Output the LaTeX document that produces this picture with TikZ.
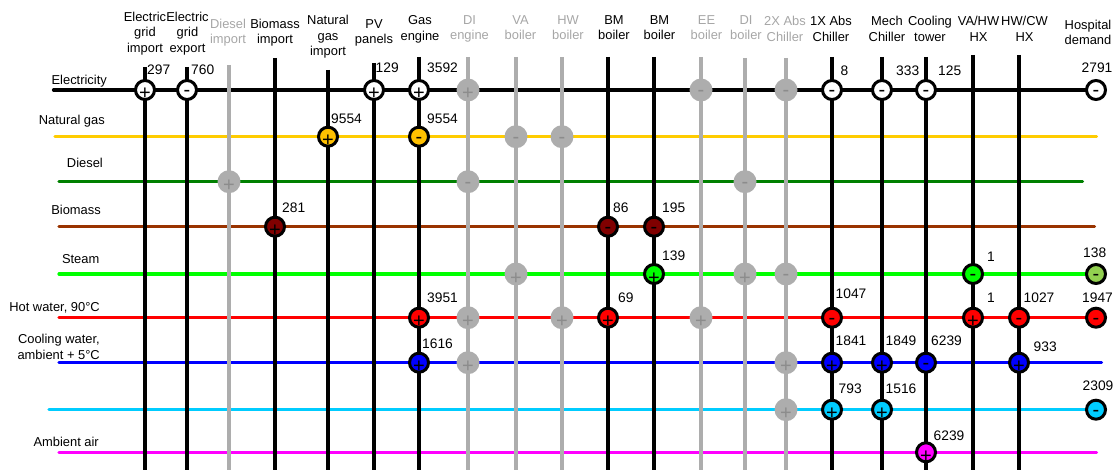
\documentclass[tikz,border=0pt]{standalone}
\usepackage{fontspec}
\setmainfont{Liberation Sans}
\newcommand{\signfont}{\fontsize{20}{20}\selectfont}
\newcommand{\valfont}{\fontsize{13.8}{16}\selectfont}
\newcommand{\hdrfont}{\fontsize{12.9}{15.5}\selectfont}
\newcommand{\sgnp}{\raisebox{-10pt}[0pt][0pt]{+}}
\newcommand{\sgnm}{\raisebox{-6.5pt}[0pt][0pt]{-}}
\definecolor{ngline}{HTML}{FFCC00}
\definecolor{ngfill}{HTML}{FFC000}
\definecolor{dsline}{HTML}{008000}
\definecolor{bmline}{HTML}{993300}
\definecolor{bmfill}{HTML}{800000}
\definecolor{stline}{HTML}{00FF00}
\definecolor{stdemand}{HTML}{92D050}
\definecolor{hwline}{HTML}{FF0000}
\definecolor{cwline}{HTML}{0000FF}
\definecolor{cyline}{HTML}{00CCFF}
\definecolor{amline}{HTML}{FF00FF}
\definecolor{offline}{HTML}{ADADAD}
\definecolor{offsign}{HTML}{8C8C8C}
\definecolor{offtext}{HTML}{A6A6A6}
\begin{document}
\begin{tikzpicture}[x=1pt,y=-1pt,
  bus/.style={line width=3.2pt, line cap=round},
  riser/.style={line width=3.5pt, black},
  riseroff/.style={line width=3.5pt, offline},
  port/.style={circle, draw=black, line width=3pt, minimum size=19pt, inner sep=0pt, font=\signfont},
  portoff/.style={circle, fill=offline, minimum size=23pt, inner sep=0pt, text=offsign, font=\signfont},
  val/.style={anchor=west, inner sep=0pt, font=\valfont},
  hdr/.style={anchor=north, align=center, inner sep=0pt, font=\hdrfont},
  hdroff/.style={hdr, text=offtext},
  rowlbl/.style={anchor=base east, inner sep=0pt, font=\hdrfont}]
\useasboundingbox (0,0) rectangle (1118,470);

% ---------- energy carriers (horizontal buses) ----------
\coordinate (el-w) at (53.5,90);   \coordinate (el-e) at (1096,90);
\coordinate (ng-w) at (55,136.7);  \coordinate (ng-e) at (1096.5,136.7);
\coordinate (ds-w) at (59,181.7);  \coordinate (ds-e) at (1082.5,181.7);
\coordinate (bm-w) at (59,226.7);  \coordinate (bm-e) at (1094.5,226.7);
\coordinate (st-w) at (59,274);    \coordinate (st-e) at (1096,274);
\coordinate (hw-w) at (59,317.7);  \coordinate (hw-e) at (1096,317.7);
\coordinate (cw-w) at (59,362.7);  \coordinate (cw-e) at (1101.5,362.7);
\coordinate (cy-w) at (49,409.7);  \coordinate (cy-e) at (1096,409.7);
\coordinate (am-w) at (59,452.3);  \coordinate (am-e) at (1096.5,452.3);

\draw[bus, black]   (el-w) -- (el-e);
\draw[bus, ngline]  (ng-w) -- (ng-e);
\draw[bus, dsline]  (ds-w) -- (ds-e);
\draw[bus, bmline]  (bm-w) -- (bm-e);
\draw[bus, stline]  (st-w) -- (st-e);
\draw[bus, hwline]  (hw-w) -- (hw-e);
\draw[bus, cwline]  (cw-w) -- (cw-e);
\draw[bus, cyline]  (cy-w) -- (cy-e);
\draw[bus, amline]  (am-w) -- (am-e);

% ---------- technologies (vertical risers) ----------
\coordinate (gimp-t) at (145,67);  \coordinate (gimp-b) at (145,470);
\coordinate (gexp-t) at (187,67);  \coordinate (gexp-b) at (187,470);
\coordinate (dimp-t) at (229,65);  \coordinate (dimp-b) at (229,470);
\coordinate (bimp-t) at (275,58);  \coordinate (bimp-b) at (275,470);
\coordinate (ngim-t) at (328,70);  \coordinate (ngim-b) at (328,470);
\coordinate (pv-t)   at (374,63);  \coordinate (pv-b)   at (374,470);
\coordinate (geng-t) at (419,57);  \coordinate (geng-b) at (419,470);
\coordinate (deng-t) at (468,57);  \coordinate (deng-b) at (468,470);
\coordinate (vab-t)  at (516,57);  \coordinate (vab-b)  at (516,470);
\coordinate (hwb-t)  at (562,57);  \coordinate (hwb-b)  at (562,470);
\coordinate (bmba-t) at (608,57);  \coordinate (bmba-b) at (608,470);
\coordinate (bmbb-t) at (654,57);  \coordinate (bmbb-b) at (654,470);
\coordinate (eeb-t)  at (701,57);  \coordinate (eeb-b)  at (701,470);
\coordinate (dib-t)  at (745,58);  \coordinate (dib-b)  at (745,470);
\coordinate (absb-t) at (786,58);  \coordinate (absb-b) at (786,470);
\coordinate (absa-t) at (832,57);  \coordinate (absa-b) at (832,470);
\coordinate (mech-t) at (882,57);  \coordinate (mech-b) at (882,470);
\coordinate (ctw-t)  at (926,57);  \coordinate (ctw-b)  at (926,470);
\coordinate (vahx-t) at (973,55);  \coordinate (vahx-b) at (973,470);
\coordinate (hwcx-t) at (1019,55); \coordinate (hwcx-b) at (1019,470);

\draw[riser]    (gimp-t) -- (gimp-b);
\draw[riser]    (gexp-t) -- (gexp-b);
\draw[riseroff] (dimp-t) -- (dimp-b);
\draw[riser]    (bimp-t) -- (bimp-b);
\draw[riser]    (ngim-t) -- (ngim-b);
\draw[riser]    (pv-t)   -- (pv-b);
\draw[riser]    (geng-t) -- (geng-b);
\draw[riseroff] (deng-t) -- (deng-b);
\draw[riseroff] (vab-t)  -- (vab-b);
\draw[riseroff] (hwb-t)  -- (hwb-b);
\draw[riser]    (bmba-t) -- (bmba-b);
\draw[riser]    (bmbb-t) -- (bmbb-b);
\draw[riseroff] (eeb-t)  -- (eeb-b);
\draw[riseroff] (dib-t)  -- (dib-b);
\draw[riseroff] (absb-t) -- (absb-b);
\draw[riser]    (absa-t) -- (absa-b);
\draw[riser]    (mech-t) -- (mech-b);
\draw[riser]    (ctw-t)  -- (ctw-b);
\draw[riser]    (vahx-t) -- (vahx-b);
\draw[riser]    (hwcx-t) -- (hwcx-b);

% ---------- column headings ----------
\node[hdr]    (h-gimp) at (145,11.5)  {Electric\\grid\\import};
\node[hdr]    (h-gexp) at (187.5,11.5){Electric\\grid\\export};
\node[hdroff] (h-dimp) at (228,18.5)  {Diesel\\import};
\node[hdr]    (h-bimp) at (275,18.5)  {Biomass\\import};
\node[hdr]    (h-ngim) at (328,15.3)  {Natural\\gas\\import};
\node[hdr]    (h-pv)   at (374,19)    {PV\\panels};
\node[hdr]    (h-geng) at (420,15.3)  {Gas\\engine};
\node[hdroff] (h-deng) at (469.5,15.3){DI\\engine};
\node[hdroff] (h-vab)  at (520.5,15.3){VA\\boiler};
\node[hdroff] (h-hwb)  at (568,15.3)  {HW\\boiler};
\node[hdr]    (h-bmba) at (614,15.3)  {BM\\boiler};
\node[hdr]    (h-bmbb) at (659.5,15.3){BM\\boiler};
\node[hdroff] (h-eeb)  at (706.5,15.3){EE\\boiler};
\node[hdroff] (h-dib)  at (746,15.3)  {DI\\boiler};
\node[hdroff] (h-absb) at (785,16)    {2X Abs\\Chiller};
\node[hdr]    (h-absa) at (831,16)    {1X Abs\\Chiller};
\node[hdr]    (h-mech) at (887,16)    {Mech\\Chiller};
\node[hdr]    (h-ctw)  at (930,16)    {Cooling\\tower};
\node[hdr]    (h-vahx) at (978.5,16)  {VA/HW\\HX};
\node[hdr]    (h-hwcx) at (1024.5,16) {HW/CW\\HX};
\node[hdr]    (h-hosp) at (1088,19.5) {Hospital\\demand};

% ---------- carrier names ----------
\node[rowlbl] (l-el) at (107,84.5)  {Electricity};
\node[rowlbl] (l-ng) at (105,124.3) {Natural gas};
\node[rowlbl] (l-ds) at (103,168)   {Diesel};
\node[rowlbl] (l-bm) at (101,215)   {Biomass};
\node[rowlbl] (l-st) at (99.5,263)  {Steam};
\node[rowlbl] (l-hw) at (100,311)   {Hot water, 90°C};
\node[rowlbl, anchor=north east, align=right] (l-cw) at (100,334.3) {Cooling water,\\ambient + 5°C};
\node[rowlbl] (l-am) at (99,446)    {Ambient air};

% ---------- electricity ----------
\node[port, fill=white] (p-el-gimp) at (145,90)  {\sgnp};
\node[port, fill=white] (p-el-gexp) at (187,90)  {\sgnm};
\node[port, fill=white] (p-el-pv)   at (374,90)  {\sgnp};
\node[port, fill=white] (p-el-geng) at (419,90)  {\sgnp};
\node[portoff]          (p-el-deng) at (468,90)  {\sgnp};
\node[portoff]          (p-el-eeb)  at (701,90)  {\sgnm};
\node[portoff]          (p-el-absb) at (786,90)  {\sgnm};
\node[port, fill=white] (p-el-absa) at (832,90)  {\sgnm};
\node[port, fill=white] (p-el-mech) at (882,90)  {\sgnm};
\node[port, fill=white] (p-el-ctw)  at (926,90)  {\sgnm};
\node[port, fill=white] (p-el-hosp) at (1096,90) {\sgnm};
\node[val] (v-el-gimp) at (147,70)  {297};
\node[val] (v-el-gexp) at (191,70)  {760};
\node[val] (v-el-pv)   at (375.5,68){129};
\node[val] (v-el-geng) at (427,68)  {3592};
\node[val] (v-el-absa) at (840.5,71){8};
\node[val] (v-el-mech) at (896,71)  {333};
\node[val] (v-el-ctw)  at (938,71)  {125};
\node[val] (v-el-hosp) at (1081.5,68){2791};

% ---------- natural gas ----------
\node[port, fill=ngfill] (p-ng-ngim) at (328,136.7) {\sgnp};
\node[port, fill=ngfill] (p-ng-geng) at (419,136.7) {\sgnm};
\node[portoff]           (p-ng-vab)  at (516,136.7) {\sgnm};
\node[portoff]           (p-ng-hwb)  at (562,136.7) {\sgnm};
\node[val] (v-ng-ngim) at (331,119) {9554};
\node[val] (v-ng-geng) at (427,119) {9554};

% ---------- diesel ----------
\node[portoff] (p-ds-dimp) at (229,181.7) {\sgnp};
\node[portoff] (p-ds-deng) at (468,181.7) {\sgnm};
\node[portoff] (p-ds-dib)  at (745,181.7) {\sgnm};

% ---------- biomass ----------
\node[port, fill=bmfill] (p-bm-bimp) at (275,226.7) {\sgnp};
\node[port, fill=bmfill] (p-bm-bmba) at (608,226.7) {\sgnm};
\node[port, fill=bmfill] (p-bm-bmbb) at (654,226.7) {\sgnm};
\node[val] (v-bm-bimp) at (282,208) {281};
\node[val] (v-bm-bmba) at (613,208) {86};
\node[val] (v-bm-bmbb) at (662,208) {195};

% ---------- steam ----------
\node[portoff]             (p-st-vab)  at (516,274)  {\sgnp};
\node[port, fill=stline]   (p-st-bmbb) at (654,274)  {\sgnp};
\node[portoff]             (p-st-dib)  at (745,274)  {\sgnp};
\node[portoff]             (p-st-absb) at (786,274)  {\sgnm};
\node[port, fill=stline]   (p-st-vahx) at (973,274)  {\sgnm};
\node[port, fill=stdemand] (p-st-hosp) at (1096,274) {\sgnm};
\node[val] (v-st-bmbb) at (662,256)  {139};
\node[val] (v-st-vahx) at (987,256.5){1};
\node[val] (v-st-hosp) at (1083,253) {138};

% ---------- hot water ----------
\node[port, fill=hwline] (p-hw-geng) at (419,317.7)  {\sgnp};
\node[portoff]           (p-hw-deng) at (468,317.7)  {\sgnp};
\node[portoff]           (p-hw-hwb)  at (562,317.7)  {\sgnp};
\node[port, fill=hwline] (p-hw-bmba) at (608,317.7)  {\sgnp};
\node[portoff]           (p-hw-eeb)  at (701,317.7)  {\sgnp};
\node[port, fill=hwline] (p-hw-absa) at (832,317.7)  {\sgnm};
\node[port, fill=hwline] (p-hw-vahx) at (973,317.7)  {\sgnp};
\node[port, fill=hwline] (p-hw-hwcx) at (1019,317.7) {\sgnm};
\node[port, fill=hwline] (p-hw-hosp) at (1096,317.7) {\sgnm};
\node[val] (v-hw-geng) at (427,298)  {3951};
\node[val] (v-hw-bmba) at (618,298)  {69};
\node[val] (v-hw-absa) at (835.5,294){1047};
\node[val] (v-hw-vahx) at (987,298)  {1};
\node[val] (v-hw-hwcx) at (1023.5,298){1027};
\node[val] (v-hw-hosp) at (1082,298) {1947};

% ---------- cooling water ----------
\node[port, fill=cwline] (p-cw-geng) at (419,362.7)  {\sgnp};
\node[portoff]           (p-cw-deng) at (468,362.7)  {\sgnp};
\node[portoff]           (p-cw-absb) at (786,362.7)  {\sgnp};
\node[port, fill=cwline] (p-cw-absa) at (832,362.7)  {\sgnp};
\node[port, fill=cwline] (p-cw-mech) at (882,362.7)  {\sgnp};
\node[port, fill=cwline] (p-cw-ctw)  at (926,362.7)  {\sgnm};
\node[port, fill=cwline] (p-cw-hwcx) at (1019,362.7) {\sgnp};
\node[val] (v-cw-geng) at (422,344)  {1616};
\node[val] (v-cw-absa) at (835.5,341){1841};
\node[val] (v-cw-mech) at (885.5,341){1849};
\node[val] (v-cw-ctw)  at (931,341)  {6239};
\node[val] (v-cw-hwcx) at (1033.5,346.5){933};

% ---------- chilled water ----------
\node[portoff]           (p-cy-absb) at (786,409.7)  {\sgnp};
\node[port, fill=cyline] (p-cy-absa) at (832,409.7)  {\sgnp};
\node[port, fill=cyline] (p-cy-mech) at (882,409.7)  {\sgnp};
\node[port, fill=cyline] (p-cy-hosp) at (1096,409.7) {\sgnm};
\node[val] (v-cy-absa) at (838.5,389){793};
\node[val] (v-cy-mech) at (885.5,389){1516};
\node[val] (v-cy-hosp) at (1082.5,386){2309};

% ---------- ambient air ----------
\node[port, fill=amline] (p-am-ctw) at (926,452.3) {\sgnp};
\node[val] (v-am-ctw) at (933.5,436) {6239};
\end{tikzpicture}
\end{document}
